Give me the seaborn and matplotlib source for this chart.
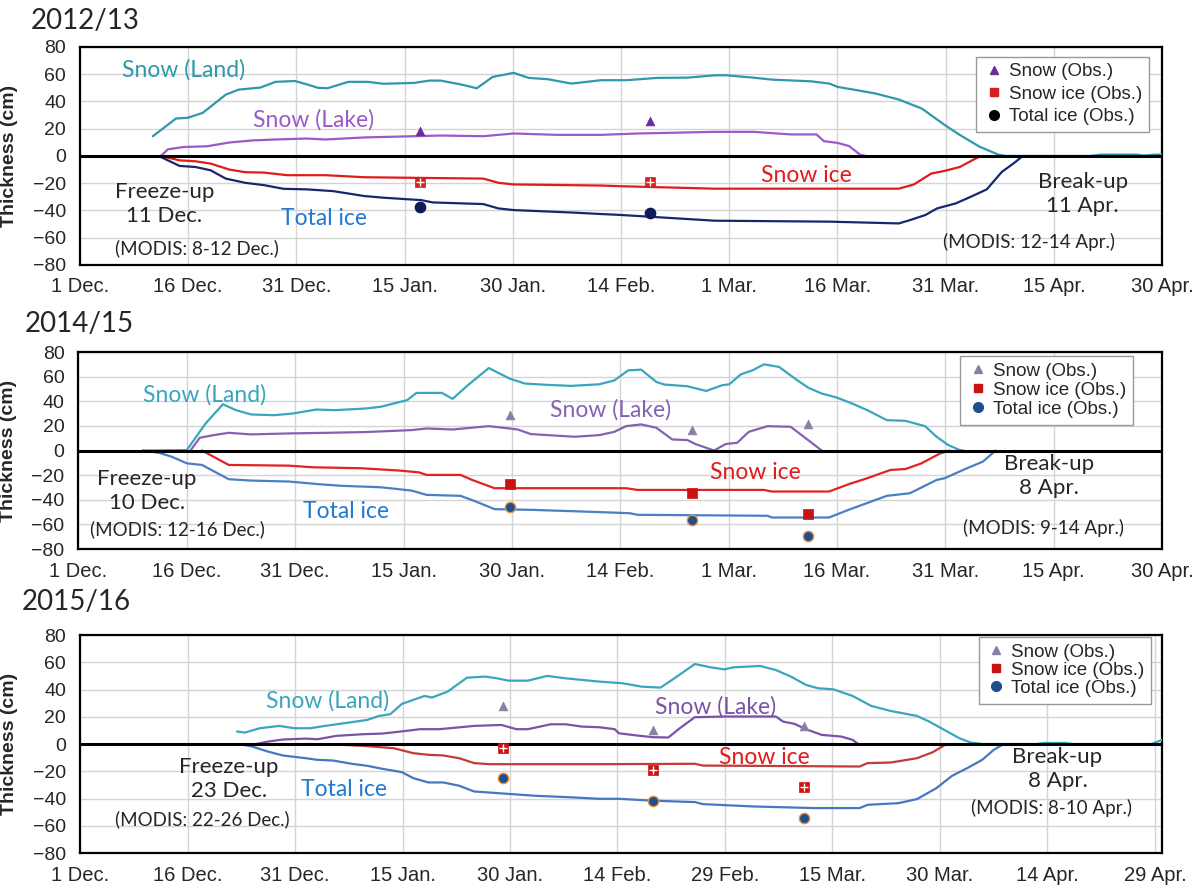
import numpy as np
import pandas as pd
import seaborn as sns
import matplotlib.pyplot as plt
from matplotlib.lines import Line2D

# ---- data: day counted from 1 Dec., thickness in cm (ice negative) ----
# 2012/13
land_1213_day = [10.1, 13.3, 14.9, 17, 20.2, 22, 25, 27.1, 29.8, 31.4, 33, 34.3, 37.2, 39.9, 42, 46.3, 48.4, 50,
                 52.7, 55, 57.2, 60.1, 62.2, 64.9, 68.1, 72.2, 75.8, 80, 84.3, 88, 89.6, 93.3, 96, 101.3, 103.9,
                 105, 108.2, 110.3, 113.5, 116.7, 119.9, 122, 124.7, 127.3, 128.3, 140, 141.5, 146.5, 147.5, 149, 150]
land_1213_cm = [14.5, 27.5, 28, 31.6, 45, 48.7, 50.2, 54.4, 55, 52.6, 50, 49.7, 54.4, 54.4, 53, 53.6, 55.3, 55.3,
                52.6, 49.7, 58, 61, 57.3, 56.3, 53.1, 55.6, 55.6, 57.3, 57.5, 59.2, 59.2, 57.5, 56, 54.8, 53.1,
                50.7, 47.8, 45.8, 41.4, 34.8, 22.6, 15.3, 6.8, 1, 0, 0, 1, 1, 0.3, 1, 1]
lake_1213_day = [11.2, 12.2, 14.4, 17.6, 20.7, 23.9, 27.1, 31.4, 34, 39.4, 46.3, 50, 55.9, 60.1, 66, 72.2, 77.4,
                 88, 93.3, 98.6, 102.1, 103.1, 105, 106.6, 108.2, 109]
lake_1213_cm = [0, 4.9, 6.6, 7.1, 9.9, 11.4, 12.1, 12.8, 12.1, 13.6, 14.5, 15, 14.5, 16.5, 15.5, 15.5, 16.5,
                17.7, 17.7, 15.8, 15.8, 10.9, 9.6, 7.3, 0.7, 0]
snowice_1213_day = [11.2, 13.8, 16, 18.1, 20.7, 22.9, 25.5, 28.7, 34, 39.4, 47.3, 55.9, 58, 60.1, 72.2, 75, 88,
                    113.5, 115.6, 118, 119.9, 122, 124.1, 124.9]
snowice_1213_cm = [0, -3.2, -3.9, -5.6, -10, -11.9, -12.2, -14.1, -14.1, -15.6, -16.1, -16.6, -19.7, -20.9, -21.7,
                   -22.2, -24, -24, -20.9, -12.9, -10.9, -8, -2, 0]
totice_1213_day = [10.9, 13.8, 16, 18.1, 20.2, 22.9, 25.5, 28.2, 31.4, 35.1, 39.4, 42, 47.3, 48.9, 55.9, 58, 60.1,
                   68.6, 72.2, 75, 88, 103.9, 113.5, 115.1, 117.2, 118.8, 121.4, 123.5, 125.7, 127.8, 129.4, 130.7]
totice_1213_cm = [0, -7.3, -8.1, -10.5, -16.6, -19.7, -21.4, -24.1, -24.5, -25.8, -29.4, -30.6, -32.4, -34.1,
                  -35.3, -38.5, -39.7, -41.6, -42.6, -43.3, -47.5, -48.2, -49.5, -47, -43.3, -38.5, -34.8, -29.9,
                  -24.5, -11.6, -5.5, 0]
obs_1213_day = [47.1, 79]
obs_1213_snow = [18, 26]
obs_1213_snowice = [-19.4, -19]
obs_1213_totice = [-37.3, -42.2]

# 2014/15
land_1415_day = [8.9, 15, 17.6, 20, 21.8, 23.9, 27.1, 29.7, 32.9, 35.5, 39.7, 41.8, 45.5, 46.8, 50.3, 51.8, 53.9,
                 56.8, 59.7, 61.8, 65, 68.2, 72.1, 74.2, 76.1, 77.9, 80, 81.1, 84.3, 86.9, 89.1, 90.1, 91.7, 93.3,
                 94.9, 97, 99.2, 101, 102.9, 105, 107.1, 109.2, 111.9, 114.5, 117.2, 118.8, 120.4, 122, 122.5]
land_1415_cm = [0, 0.4, 22, 37.6, 32.8, 29.3, 28.7, 30.1, 33.3, 32.8, 34.1, 35.5, 40.9, 46.8, 46.8, 42, 53, 67,
                58.4, 54.4, 53.3, 52.5, 53.8, 57, 65.1, 65.7, 55.7, 53.6, 52.2, 48.4, 53, 53.8, 61.9, 65.1, 70,
                67.9, 58.4, 51.1, 46.3, 43, 38.2, 32.8, 24.7, 24.1, 19.8, 11.2, 4.5, 0.4, 0]
lake_1415_day = [15.5, 16.8, 18.7, 20.8, 23.9, 29.2, 34.5, 39.7, 46.1, 48.2, 51.8, 56.8, 59.7, 60.8, 62.6, 65,
                 68.7, 72.1, 74.2, 75.8, 77.9, 80, 82.2, 84.3, 85.4, 88, 89.6, 91.2, 92.8, 95.4, 98.6, 100.7, 102.9]
lake_1415_cm = [0, 10.4, 12.5, 14.4, 13.1, 13.9, 14.4, 15, 16.6, 17.9, 17.1, 19.8, 17.9, 17.1, 13.4, 12.5, 11.2,
                12.5, 15.2, 19.8, 21.2, 18.5, 9, 8.5, 5.3, 0, 5.3, 6.3, 15.2, 19.8, 19.3, 9.9, 0]
snowice_1415_day = [17.1, 20.8, 29.2, 32.4, 39.2, 44.5, 47.1, 48.2, 52.9, 54.5, 57.6, 75.8, 77.4, 94.9, 96, 103.9,
                    106.6, 109.2, 112.4, 114.5, 116.7, 119.3, 120.6]
snowice_1415_cm = [0, -11.7, -12.3, -13.6, -14.4, -16.3, -17.7, -19.8, -19.8, -23.9, -30.6, -30.6, -32, -32, -33.3,
                   -33.3, -27.4, -22.5, -15.8, -15, -10.4, -2.3, 0]
totice_1415_day = [8.9, 11.1, 12.9, 15, 17.1, 20.8, 23.9, 29.2, 33.4, 36.6, 41.8, 46.1, 48.2, 52.9, 55, 57.6, 62.9,
                   72.1, 76.3, 77.4, 95.4, 96, 103.9, 106.6, 111.9, 115.1, 118.8, 119.9, 123, 125.2, 126.8, 127]
totice_1415_cm = [0, -1.8, -5, -10.4, -11.7, -23.3, -24.4, -25.2, -27.4, -28.7, -29.8, -32.5, -36, -36.8, -41.4,
                  -47.6, -48.2, -50, -50.9, -52.2, -53, -54.4, -54.4, -48.2, -36.8, -34.7, -23.9, -22.5, -14.4, -9,
                  -0.9, 0]
obs_1415_day = [59.7, 85, 101]
obs_1415_snow = [29, 16.6, 21.5]
obs_1415_snowice = [-27.4, -34.7, -51.4]
obs_1415_totice = [-45.5, -56.8, -69.2]

# 2015/16 (leap year)
land_1516_day = [21.9, 23, 25.1, 27.8, 29.9, 32.1, 34.2, 36.9, 40.1, 41.7, 43.3, 44.9, 46.5, 48.1, 49.1, 51.3, 54,
                 56.6, 58.2, 59.8, 62.5, 65.2, 67.8, 72.5, 75.7, 78.4, 81, 82.6, 85.8, 88, 89.9, 91.2, 94.9, 97.1,
                 99.2, 101.3, 103, 105.1, 107.8, 110.4, 113.1, 116.8, 118.5, 120.6, 122.7, 124.3, 125.9, 133.5,
                 134.5, 137.5, 138.5, 149.5, 151]
land_1516_cm = [9.2, 8.4, 11.6, 13.3, 11.6, 11.6, 13.3, 15.3, 17.7, 20.6, 21.9, 29.4, 32.4, 35.3, 34.1, 38.5, 48.7,
                49.5, 48.2, 46.5, 46.5, 50, 48.2, 45.8, 44.6, 42.1, 41.4, 47, 58.7, 56.3, 54.8, 56.3, 57.3, 54.3,
                49.5, 43.4, 40.9, 40.2, 35.3, 28, 24.3, 20.6, 16.5, 10.4, 4.3, 1.1, 0, 0, 0.8, 0.8, 0, 0, 3]
lake_1516_day = [24.6, 26.2, 28.3, 31.5, 33.1, 35.8, 39.5, 42.2, 44.3, 47.5, 50.2, 55, 58.8, 60.9, 62.5, 65.7, 67.8,
                 70, 72.5, 74.6, 75.2, 77.8, 80, 82.1, 83.7, 85.8, 90.1, 97.1, 98.1, 99.7, 101.3, 103.5, 106.2,
                 107.8, 108.6]
lake_1516_cm = [0, 1.8, 3.3, 4, 3.5, 6, 7.2, 7.7, 8.9, 10.9, 10.9, 13.3, 14, 10.9, 10.9, 14.5, 14.5, 12.8, 12.3,
                10.9, 7.9, 6.2, 5, 4.8, 11.6, 19.7, 20.2, 20.2, 16.5, 14.8, 10.9, 6.7, 5.5, 3.1, 0]
snowice_1516_day = [34.2, 39.5, 43.8, 46.5, 48.6, 50.7, 52.9, 55, 57.2, 72.5, 85.8, 86.9, 108.8, 109.9, 113.1,
                    116.8, 119, 120.9]
snowice_1516_cm = [0, -1.3, -3.1, -6.7, -7.9, -8.4, -10.4, -14, -14.8, -14.8, -14.5, -15.8, -16.5, -14, -13.6,
                   -10.4, -6, 0]
totice_1516_day = [22.2, 24, 26.2, 28.3, 31.5, 33.1, 35.3, 37.9, 40.1, 42.2, 44.9, 46.5, 48.6, 50.7, 52.9, 55,
                   58.2, 63.6, 68.9, 72.5, 75.2, 80, 85.8, 86.9, 93.9, 102.4, 108.8, 109.9, 114.2, 116.8, 119.5,
                   121.7, 123.8, 125.9, 127.5, 128.9]
totice_1516_cm = [0, -1.8, -5.5, -8.4, -10.4, -11.6, -12.1, -14.5, -16, -18.2, -20.6, -25, -28.2, -28.2, -30.6,
                  -34.8, -36, -38, -39.2, -40.2, -40.2, -41.6, -42.6, -44.1, -45.8, -47, -47, -44.6, -43.4, -40.4,
                  -32.4, -23.3, -17.7, -11.6, -4.3, 0]
obs_1516_day = [59, 80, 101]
obs_1516_snow = [28, 10.4, 13.3]
obs_1516_snowice = [-3, -18.9, -31.6]
obs_1516_totice = [-25, -41.6, -54]

ticks_1213 = ["1 Dec.", "16 Dec.", "31 Dec.", "15 Jan.", "30 Jan.", "14 Feb.", "1 Mar.", "16 Mar.",
              "31 Mar.", "15 Apr.", "30 Apr."]
ticks_1516 = ["1 Dec.", "16 Dec.", "31 Dec.", "15 Jan.", "30 Jan.", "14 Feb.", "29 Feb.", "15 Mar.",
              "30 Mar.", "14 Apr.", "29 Apr."]

seasons = [
    dict(title="2012/13", ticks=ticks_1213, xmax=150,
         land=(land_1213_day, land_1213_cm), lake=(lake_1213_day, lake_1213_cm),
         snowice=(snowice_1213_day, snowice_1213_cm), totice=(totice_1213_day, totice_1213_cm),
         obs_day=obs_1213_day, obs_snow=obs_1213_snow, obs_si=obs_1213_snowice, obs_ti=obs_1213_totice,
         col=dict(land="#2f98aa", lake="#9b59c9", si="#e01b1b", ti="#17276e",
                  tri="#6a2c9a", sq="#d42020", circ="#101a55", circ_edge="#101a55", leg_circ="#000000"),
         freeze=("Freeze-up\n11 Dec.", 11.7, -35, "(MODIS: 8-12 Dec.)", 16.2, -67.8),
         breakup=("Break-up\n11 Apr.", 139, -28, "(MODIS: 12-14 Apr.)", 131.5, -63.4),
         lbl=dict(land=(14.3, 63), lake=(32.4, 26.3), ti=(33.8, -45.8), si=(100.7, -14.6)),
         cross=True, legend=(0.988, 0.955), lspace=0.28),
    dict(title="2014/15", ticks=ticks_1213, xmax=150,
         land=(land_1415_day, land_1415_cm), lake=(lake_1415_day, lake_1415_cm),
         snowice=(snowice_1415_day, snowice_1415_cm), totice=(totice_1415_day, totice_1415_cm),
         obs_day=obs_1415_day, obs_snow=obs_1415_snow, obs_si=obs_1415_snowice, obs_ti=obs_1415_totice,
         col=dict(land="#3aa6bd", lake="#8462b2", si="#e32222", ti="#4a7fc6",
                  tri="#8a7ea6", sq="#cc1111", circ="#1f4e8c", circ_edge="#e8923a", leg_circ="#1f4e8c"),
         freeze=("Freeze-up\n10 Dec.", 9.5, -33, "(MODIS: 12-16 Dec.)", 13.7, -63.8),
         breakup=("Break-up\n8 Apr.", 134.4, -21, "(MODIS: 9-14 Apr.)", 133.6, -63),
         lbl=dict(land=(17.4, 45), lake=(73.7, 32.8), ti=(37, -49.5), si=(93.7, -17.9)),
         cross=False, legend=(0.973, 0.978), lspace=0.1),
    dict(title="2015/16", ticks=ticks_1516, xmax=151,
         land=(land_1516_day, land_1516_cm), lake=(lake_1516_day, lake_1516_cm),
         snowice=(snowice_1516_day, snowice_1516_cm), totice=(totice_1516_day, totice_1516_cm),
         obs_day=obs_1516_day, obs_snow=obs_1516_snow, obs_si=obs_1516_snowice, obs_ti=obs_1516_totice,
         col=dict(land="#3aa6bd", lake="#7a52a8", si="#c23b3b", ti="#4677c2",
                  tri="#8a7ea6", sq="#cc1111", circ="#1f4e8c", circ_edge="#e8923a", leg_circ="#1f4e8c"),
         freeze=("Freeze-up\n23 Dec.", 20.8, -25.3, "(MODIS: 22-26 Dec.)", 17, -55),
         breakup=("Break-up\n8 Apr.", 136.4, -18, "(MODIS: 8-10 Apr.)", 135.6, -47),
         lbl=dict(land=(34.5, 31.6), lake=(88.7, 27.5), ti=(36.9, -33.6), si=(95.5, -9.6)),
         cross=True, legend=(0.99, 0.99), lspace=0.05),
]

sns.set_style("white")
plt.rcParams["font.family"] = ["Liberation Sans", "DejaVu Sans"]
ann_font = ["Lato", "DejaVu Sans"]

fig = plt.figure(figsize=(12, 8.91), dpi=100)
boxes = [(0.0667, 0.7026, 0.9017, 0.2447), (0.0654, 0.3838, 0.9029, 0.2211), (0.0667, 0.0426, 0.9017, 0.2447)]
title_pos = [(0.026, 0.976), (0.021, 0.636), (0.018, 0.324)]

for s, box, tp in zip(seasons, boxes, title_pos):
    ax = fig.add_axes(box)
    c = s["col"]
    for key, ckey in [("land", "land"), ("lake", "lake"), ("snowice", "si"), ("totice", "ti")]:
        d, v = s[key]
        sns.lineplot(x=d, y=v, ax=ax, color=c[ckey], linewidth=1.6, estimator=None, sort=False, zorder=3)
    ax.axhline(0, color="black", linewidth=2.2, zorder=4)

    sns.scatterplot(x=s["obs_day"], y=s["obs_snow"], ax=ax, marker="^", s=40, color=c["tri"],
                    edgecolor=c["tri"], linewidth=0.5, zorder=5)
    sns.scatterplot(x=s["obs_day"], y=s["obs_si"], ax=ax, marker="s", s=50, color=c["sq"],
                    edgecolor=c["sq"], linewidth=0.5, zorder=5)
    if s["cross"]:
        sns.scatterplot(x=s["obs_day"], y=s["obs_si"], ax=ax, marker="+", s=28, color="white",
                        linewidth=1, zorder=6)
    sns.scatterplot(x=s["obs_day"], y=s["obs_ti"], ax=ax, marker="o", s=55, color=c["circ"],
                    edgecolor=c["circ_edge"], linewidth=1, zorder=5)

    ax.set_xlim(0, s["xmax"])
    ax.set_ylim(-80, 80)
    ax.set_xticks(np.arange(0, 151, 15))
    ax.set_xticklabels(s["ticks"], fontsize=14.5)
    ax.set_yticks(np.arange(-80, 81, 20))
    ax.tick_params(axis="y", labelsize=14, length=5, width=1.2, direction="out", pad=5)
    ax.tick_params(axis="x", length=5, width=1.2, direction="out", pad=4)
    ax.grid(True, color="#d4d4d4", linewidth=1, zorder=0)
    ax.set_axisbelow(True)
    for sp in ax.spines.values():
        sp.set_color("black")
        sp.set_linewidth(1.6)
    ax.set_ylabel("Thickness (cm)", fontsize=14, fontweight="bold")
    ax.yaxis.set_label_coords(-0.057, 0.5)

    lb = s["lbl"]
    ax.text(*lb["land"], "Snow (Land)", color=c["land"], fontsize=16.5, family=ann_font, ha="center", va="center")
    ax.text(*lb["lake"], "Snow (Lake)", color=c["lake"], fontsize=16.5, family=ann_font, ha="center", va="center")
    ax.text(*lb["ti"], "Total ice", color="#1f7ad0", fontsize=16.5, family=ann_font, ha="center", va="center")
    ax.text(*lb["si"], "Snow ice", color="#e01b1b", fontsize=16.5, family=ann_font, ha="center", va="center")
    for t, x, y, m, mx, my in (s["freeze"], s["breakup"]):
        ax.text(x, y, t, fontsize=16, family=ann_font, ha="center", va="center", linespacing=1.25)
        ax.text(mx, my, m, fontsize=13.5, family=ann_font, ha="center", va="center")

    handles = [
        Line2D([], [], marker="^", linestyle="none", color=c["tri"], markersize=6, label="Snow (Obs.)"),
        Line2D([], [], marker="s", linestyle="none", color=c["sq"], markersize=6, label="Snow ice (Obs.)"),
        Line2D([], [], marker="o", linestyle="none", color=c["leg_circ"], markersize=7, label="Total ice (Obs.)"),
    ]
    ax.legend(handles=handles, loc="upper right", bbox_to_anchor=s["legend"], fontsize=13.5,
              frameon=True, fancybox=False, edgecolor="#999999", framealpha=1, handletextpad=0.2,
              handlelength=1.2, labelspacing=s["lspace"], borderpad=0.35, borderaxespad=0)

    fig.text(tp[0], tp[1], s["title"], fontsize=20, family=ann_font, ha="left", va="center")

fig.savefig("out.png", dpi=100)
